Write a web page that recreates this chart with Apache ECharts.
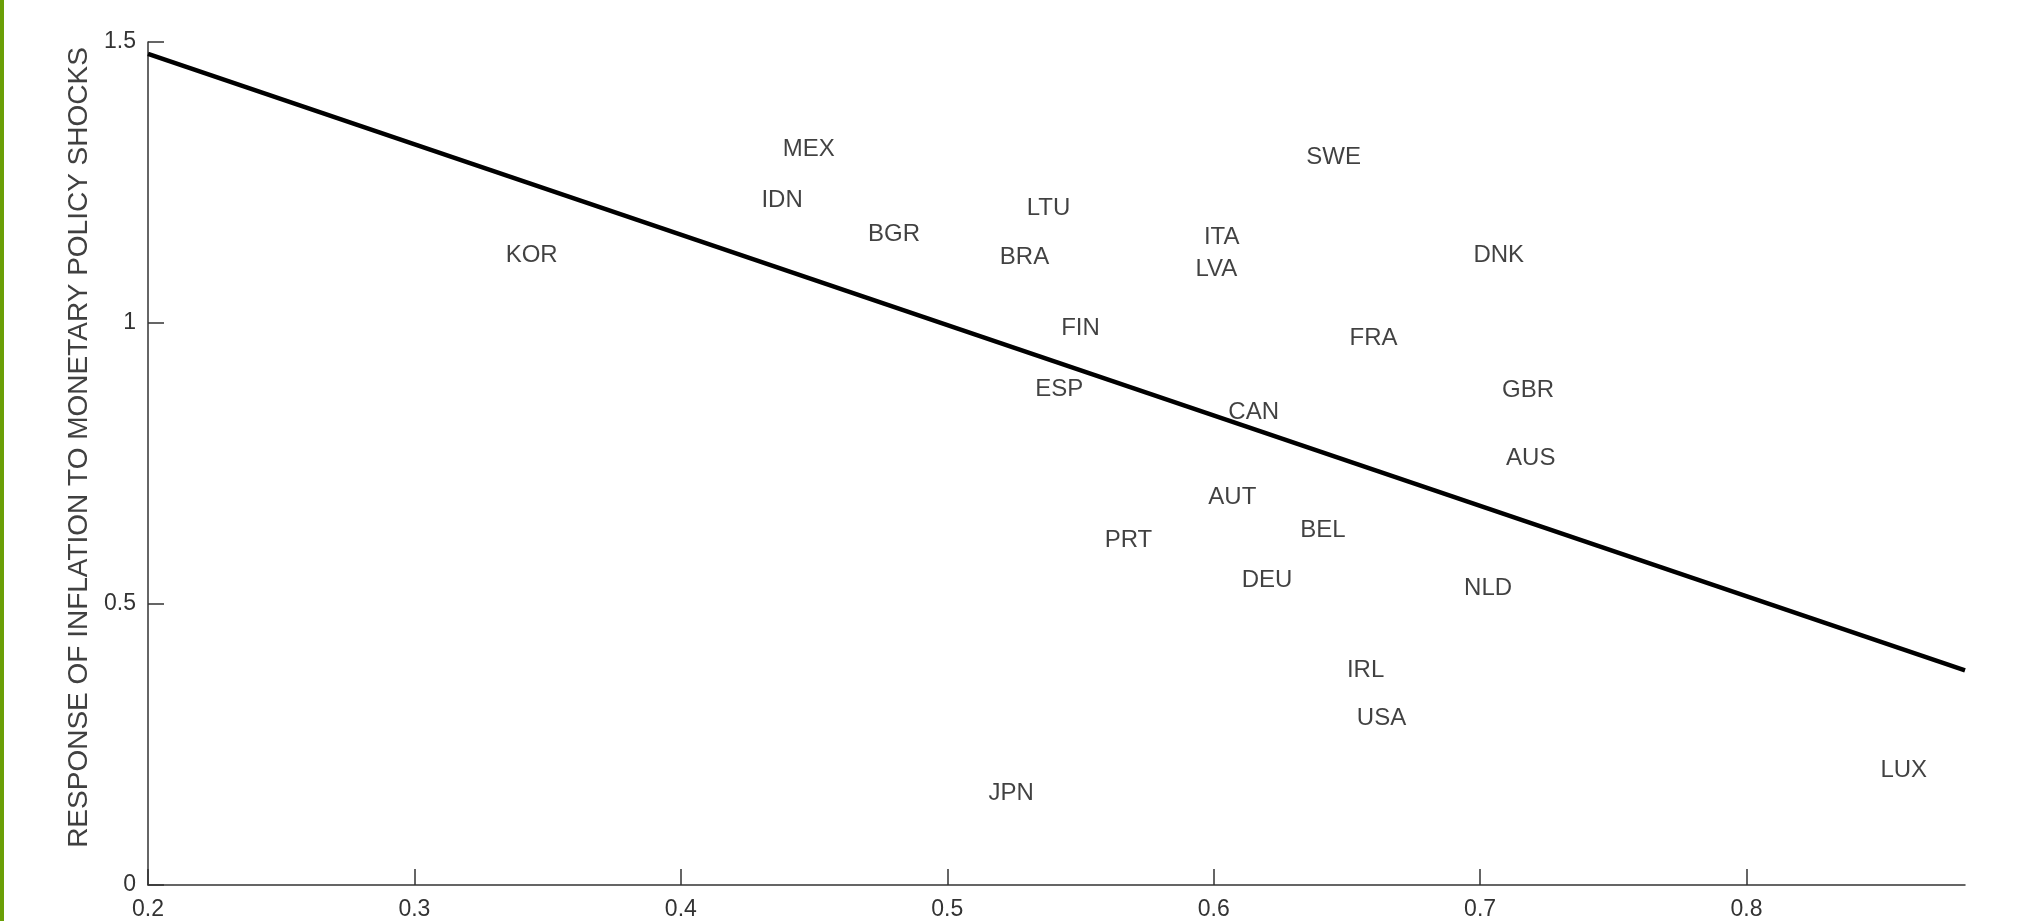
<!DOCTYPE html>
<html>
<head>
<meta charset="utf-8">
<script src="https://cdn.jsdelivr.net/npm/echarts@6/dist/echarts.min.js"></script>
<style>
html,body{margin:0;padding:0;background:#fff;}
#chart{width:2020px;height:921px;}
</style>
</head>
<body>
<div id="chart"></div>
<script>
// Country codes and their values (label centres)
var countries = ['MEX','SWE','IDN','LTU','BGR','ITA','KOR','BRA','DNK','LVA','FIN','FRA','GBR','ESP','CAN','AUS','AUT','BEL','PRT','DEU','NLD','IRL','USA','LUX','JPN'];
var xValues   = [0.448,0.645,0.438,0.538,0.480,0.603,0.344,0.529,0.707,0.601,0.550,0.660,0.718,0.542,0.615,0.719,0.607,0.641,0.568,0.620,0.703,0.657,0.663,0.859,0.524];
var yValues   = [1.312,1.298,1.221,1.207,1.161,1.156,1.124,1.120,1.124,1.099,0.994,0.976,0.884,0.886,0.845,0.763,0.694,0.634,0.616,0.545,0.531,0.385,0.300,0.208,0.167];

// Fitted regression line end points
var fitX = [0.2, 0.882];
var fitY = [1.479, 0.382];

// Axis tick settings
var xTicks = {min: 0.2, max: 0.882, interval: 0.1};
var yTicks = {min: 0, max: 1.5, interval: 0.5};

var yTitle = 'RESPONSE OF INFLATION TO MONETARY POLICY SHOCKS';

var scatterData = countries.map(function (c, i) {
  return {name: c, value: [xValues[i], yValues[i]]};
});
var lineData = fitX.map(function (x, i) { return [x, fitY[i]]; });

var chart = echarts.init(document.getElementById('chart'), null, {renderer: 'canvas'});
var font = '"Liberation Sans", Arial, Helvetica, sans-serif';
chart.setOption({
  animation: false,
  backgroundColor: '#ffffff',
  textStyle: {fontFamily: font},
  graphic: [{
    type: 'rect',
    left: 0, top: 0,
    shape: {x: 0, y: 0, width: 4, height: 921},
    style: {fill: '#6a9f06'},
    silent: true
  }],
  grid: {left: 148, right: 55, top: 42, bottom: 34, containLabel: false},
  xAxis: {
    type: 'value',
    min: xTicks.min, max: xTicks.max, interval: xTicks.interval,
    splitLine: {show: false},
    axisLine: {show: true, onZero: false, lineStyle: {color: '#333', width: 1.5}},
    axisTick: {show: true, inside: true, length: 16, lineStyle: {color: '#333', width: 1.5}},
    axisLabel: {color: '#333', fontSize: 23, fontFamily: font, margin: 13, showMaxLabel: false}
  },
  yAxis: {
    type: 'value',
    min: yTicks.min, max: yTicks.max, interval: yTicks.interval,
    splitLine: {show: false},
    axisLine: {show: true, onZero: false, lineStyle: {color: '#333', width: 1.5}},
    axisTick: {show: true, inside: true, length: 16, lineStyle: {color: '#333', width: 1.5}},
    axisLabel: {color: '#333', fontSize: 23, fontFamily: font, margin: 12},
    name: yTitle,
    nameLocation: 'middle',
    nameGap: 54,
    nameTextStyle: {color: '#404040', fontSize: 28, fontFamily: font, padding: [0, 0, 0, 32]}
  },
  series: [{
    type: 'line',
    data: lineData,
    symbol: 'none',
    lineStyle: {color: '#000', width: 4.5},
    silent: true,
    z: 2
  }, {
    type: 'scatter',
    data: scatterData,
    symbolSize: 0.1,
    itemStyle: {color: 'transparent'},
    label: {
      show: true,
      position: 'inside',
      offset: [0, 2],
      formatter: '{b}',
      color: '#111',
      fontSize: 24,
      fontFamily: font
    },
    silent: true,
    z: 3
  }]
});
</script>
</body>
</html>
